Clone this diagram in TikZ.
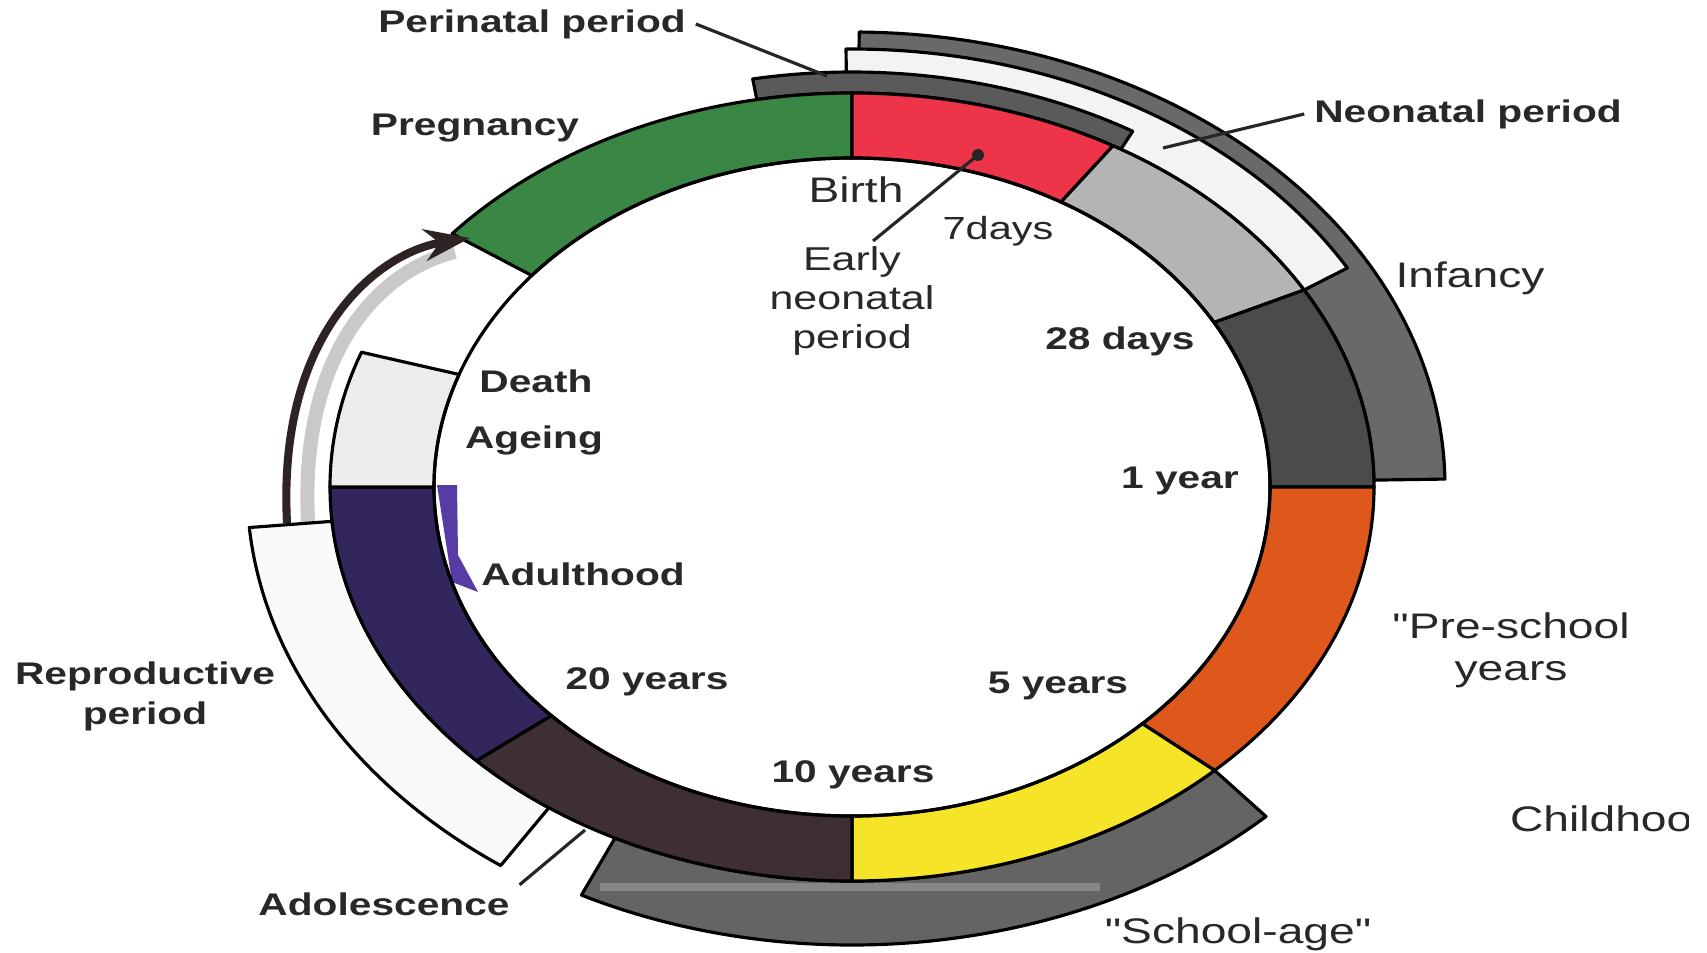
\documentclass[tikz,border=0pt]{standalone}
\usepackage{fontspec}
\setmainfont{Liberation Sans}[Ligatures=TeXOff]
\usetikzlibrary{arrows.meta}
\definecolor{cgreen}{RGB}{58,134,68}
\definecolor{cred}{RGB}{238,52,72}
\definecolor{clgray}{RGB}{180,180,180}
\definecolor{cdgray}{RGB}{75,75,75}
\definecolor{cinf}{RGB}{105,105,105}
\definecolor{cperi}{RGB}{90,90,90}
\definecolor{cneo}{RGB}{243,243,243}
\definecolor{corange}{RGB}{222,88,28}
\definecolor{cyellow}{RGB}{246,228,40}
\definecolor{cbrown}{RGB}{62,47,50}
\definecolor{cpurple}{RGB}{50,38,92}
\definecolor{cage}{RGB}{236,236,236}
\definecolor{cschool}{RGB}{100,100,100}
\definecolor{crepro}{RGB}{250,250,250}
\definecolor{ctxt}{RGB}{40,40,40}
\definecolor{carrow}{RGB}{45,35,35}
\definecolor{csmudge}{RGB}{88,60,165}
\newcommand{\ringseg}[3]{\path[#3] (#1:522 and 394) arc[start angle=#1,end angle=#2,x radius=522,y radius=394] -- (#2:418 and 329) arc[start angle=#2,end angle=#1,x radius=418,y radius=329] -- cycle;}
\newcommand{\bandseg}[5]{\path[#5] (#1:#3 and #4) arc[start angle=#1,end angle=#2,x radius=#3,y radius=#4] -- (#2:522 and 394) arc[start angle=#2,end angle=#1,x radius=522,y radius=394] -- cycle;}
\begin{document}
\begin{tikzpicture}[x=0.01cm, y=-0.01cm,
  seg/.style={draw=black, line width=0.9pt, line join=round},
  lb/.style={font=\fontsize{8.9}{11.4}\selectfont\bfseries, xscale=1.3, text=ctxt, inner sep=2pt, align=center},
  lr/.style={font=\fontsize{10.1}{12}\selectfont, xscale=1.3, text=ctxt, inner sep=2pt, align=center},
  lead/.style={draw=black!85, line width=0.9pt}]
\fill[white] (0,0) rectangle (1707,952);
\useasboundingbox (0,0) rectangle (1707,952);
% shadow of the cycle arrow
\draw[black!35, line width=4pt, opacity=0.6] (308,522) .. controls (299,345) and (386,268) .. (455,252);
% purple smudge
\fill[csmudge] (437,485) -- (457,485) -- (458,555) -- (478,592) -- (452,582) -- cycle;
\begin{scope}[shift={(852,487)}, yscale=-1]
  % outer bands
  \bandseg{1}{89.3}{593}{455}{seg, fill=cinf}
  \bandseg{30}{90.6}{572}{438}{seg, fill=cneo}
  \bandseg{59}{100.5}{545}{415}{seg, fill=cperi}
  \bandseg{243}{314}{596}{458}{seg, fill=cschool}
  \bandseg{185}{234.5}{605}{465}{seg, fill=crepro}
  % main ring
  \ringseg{90}{140}{seg, fill=cgreen}
  \ringseg{60}{90}{seg, fill=cred}
  \ringseg{30}{60}{seg, fill=clgray}
  \ringseg{0}{30}{seg, fill=cdgray}
  \ringseg{-46}{0}{seg, fill=corange}
  \ringseg{-90}{-46}{seg, fill=cyellow}
  \ringseg{-136}{-90}{seg, fill=cbrown}
  \ringseg{180}{224}{seg, fill=cpurple}
  \ringseg{160}{180}{seg, fill=cage}
  \draw[line width=0.9pt] (0,0) ellipse[x radius=418, y radius=329];
\end{scope}
% light scan stripe in school-age band
\draw[white, opacity=0.22, line width=2pt] (600,887) -- (1100,887);
% cycle arrow
\draw[carrow, line width=2.3pt, -{Stealth[length=13pt, width=9pt]}] (287,523) .. controls (277,330) and (380,252) .. (470,238);
% labels
\node[lb] (perin) at (532,24) {Perinatal period};
\node[lb] (preg) at (475,128) {Pregnancy};
\node[lb] (neon) at (1468,114) {Neonatal period};
\node[lr] (birth) at (856,190) {Birth};
\node[lr, font=\fontsize{9.1}{11}\selectfont] (days7) at (998,231) {7days};
\node[lr, font=\fontsize{9.4}{11}\selectfont] (early) at (852,301) {Early\\neonatal\\period};
\node[lr] (infancy) at (1470,278) {Infancy};
\node[lb] (d28) at (1120,341) {28 days};
\node[lb] (death) at (536,381) {Death};
\node[lb] (ageing) at (534,440) {Ageing};
\node[lb] (yr1) at (1180,481) {1 year};
\node[lb] (adult) at (583,574) {Adulthood};
\node[lr] (presch) at (1511,650) {"Pre-school\\years};
\node[lb] (repro) at (145,696) {Reproductive\\period};
\node[lb] (y20) at (647,682) {20 years};
\node[lb] (y5) at (1058,686) {5 years};
\node[lb] (y10) at (853,775) {10 years};
\node[lb] (adol) at (384,904) {Adolescence};
\node[lr] (school) at (1238,934) {"School-age"};
\begin{scope}
  \clip (1400,780) rectangle (1688,860);
  \node[lr, anchor=west] (child) at (1500,819) {Childhood};
\end{scope}
% leader lines
\coordinate (pp) at (827,76);
\draw[lead] (perin.east) -- (pp);
\coordinate (np) at (1163,148);
\draw[lead] (neon.west) -- (np);
\coordinate (en0) at (873,241);
\coordinate (en1) at (978,155);
\draw[lead] (en0) -- (en1);
\fill[black!85] (en1) circle (6);
\coordinate (ad1) at (585,830);
\draw[lead] (adol.north east) -- (ad1);
\end{tikzpicture}
\end{document}
